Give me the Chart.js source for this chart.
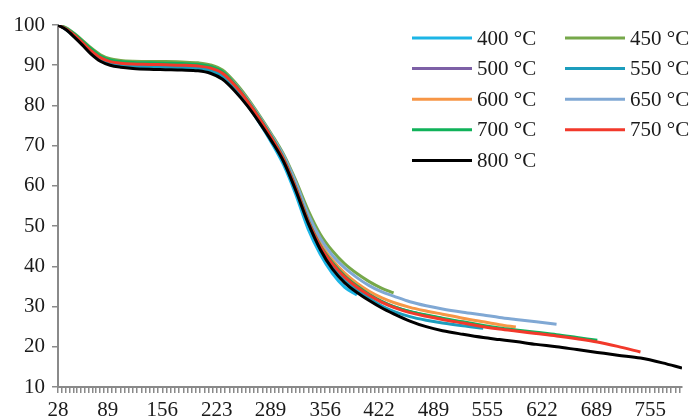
<!DOCTYPE html>
<html>
<head>
<meta charset="utf-8">
<script src="https://cdn.jsdelivr.net/npm/chart.js@4"></script>
<style>
  body { margin: 0; background: #fff; }
  #wrap { width: 690px; height: 418px; }
</style>
</head>
<body>
<div id="wrap"><canvas id="tgaChart" width="690" height="418"></canvas></div>
<script>
// Temperature grid (°C) shared by all runs
const tempC = [28, 38, 48, 58, 68, 80, 92, 105, 120, 140, 160, 180, 200, 215, 230, 245, 260, 275, 290, 305,
  320, 335, 350, 365, 380, 395, 410, 425, 440, 460, 480, 500, 525, 550, 570, 590, 615, 640, 665, 690,
  715, 743, 770, 794];

// Residual mass (%) per run
const mass400 = [100, 98.9, 97.2, 95.2, 93.2, 91.4, 90.5, 90.0, 89.8, 89.6, 89.5, 89.4, 89.2, 88.6, 87.0, 84.0,
  80.2, 75.8, 70.8, 65.2, 57.8, 49.3, 43.0, 38.2, 34.8, 32.9];
const mass450 = [100, 99.3, 97.9, 96.2, 94.4, 92.6, 91.6, 91.2, 91.0, 90.9, 90.9, 90.8, 90.6, 90.1, 88.8, 85.8,
  82.0, 77.6, 72.9, 67.8, 61.3, 54.0, 48.0, 43.8, 40.6, 38.2, 36.2, 34.6, 33.4];
const mass500 = [100, 99.0, 97.4, 95.5, 93.6, 91.8, 90.9, 90.5, 90.3, 90.1, 90.0, 89.9, 89.7, 89.2, 87.8, 84.8,
  81.0, 76.6, 71.8, 66.5, 59.3, 51.3, 45.0, 40.7, 37.5, 35.0, 33.0, 31.3, 30.0, 28.7, 27.8, 27.0];
const mass550 = [100, 98.9, 97.2, 95.3, 93.3, 91.5, 90.6, 90.1, 89.9, 89.7, 89.6, 89.5, 89.3, 88.7, 87.2, 84.3,
  80.5, 76.2, 71.5, 66.2, 58.9, 50.8, 44.5, 40.0, 36.6, 34.2, 32.1, 30.2, 28.8, 27.5, 26.6, 25.9, 25.2, 24.6];
const mass600 = [100, 99.1, 97.6, 95.8, 93.9, 92.0, 91.1, 90.7, 90.5, 90.4, 90.3, 90.2, 90.0, 89.5, 88.2, 85.2,
  81.4, 77.0, 72.2, 66.9, 59.8, 52.0, 45.8, 41.5, 38.3, 35.8, 33.8, 32.2, 31.0, 29.8, 28.9, 28.1, 27.1, 26.2,
  25.5, 24.9];
const mass650 = [100, 99.1, 97.6, 95.8, 94.0, 92.1, 91.2, 90.8, 90.6, 90.5, 90.4, 90.3, 90.1, 89.6, 88.3, 85.4,
  81.6, 77.3, 72.6, 67.5, 60.8, 53.0, 47.0, 42.7, 39.6, 37.2, 35.2, 33.7, 32.6, 31.2, 30.2, 29.4, 28.6, 27.9,
  27.3, 26.8, 26.2, 25.6];
const mass700 = [100, 99.2, 97.8, 96.0, 94.2, 92.3, 91.3, 90.9, 90.7, 90.6, 90.5, 90.4, 90.2, 89.7, 88.4, 85.3,
  81.4, 77.0, 72.2, 66.8, 59.6, 51.5, 45.2, 40.9, 37.6, 35.1, 33.0, 31.3, 30.0, 28.8, 27.9, 27.1, 26.2, 25.3,
  24.7, 24.2, 23.6, 23.0, 22.3, 21.6];
const mass750 = [100, 99.0, 97.5, 95.6, 93.7, 91.9, 90.9, 90.5, 90.3, 90.2, 90.1, 90.0, 89.8, 89.3, 88.0, 85.0,
  81.2, 76.8, 72.0, 66.6, 59.4, 51.3, 45.0, 40.6, 37.3, 34.8, 32.8, 31.1, 29.8, 28.5, 27.6, 26.8, 25.9, 25.0,
  24.4, 23.9, 23.3, 22.7, 22.0, 21.2, 20.1, 18.7];
const mass800 = [100, 98.8, 97.0, 95.0, 92.9, 91.0, 90.0, 89.5, 89.2, 89.0, 88.9, 88.8, 88.6, 88.0, 86.5, 83.6,
  80.0, 75.8, 71.2, 66.0, 58.8, 50.8, 44.2, 39.3, 35.9, 33.5, 31.5, 29.7, 28.2, 26.4, 25.0, 24.0, 23.1, 22.3,
  21.8, 21.3, 20.6, 20.0, 19.3, 18.6, 17.9, 17.2, 16.0, 14.7];

const runLabels = ['400 °C', '450 °C', '500 °C', '550 °C', '600 °C', '650 °C', '700 °C', '750 °C', '800 °C'];
const runMass = [mass400, mass450, mass500, mass550, mass600, mass650, mass700, mass750, mass800];
const runColors = ['#1cb5e6', '#76a84a', '#7d60a6', '#1c9dbd', '#f79646', '#80a8d4', '#10b25a', '#f2392b', '#000000'];

const xTickLabels = [28, 89, 156, 223, 289, 356, 422, 489, 555, 622, 689, 755];
const xMax = 794;

const fontFamily = '"Liberation Serif", "Times New Roman", serif';
const axisGrey = '#8a8a8a';

// Legend drawn inside the plot, two columns like the original
const insideLegend = {
    id: 'insideLegend',
    afterDraw(chart) {
        const ctx = chart.ctx;
        ctx.save();
        ctx.font = '21px ' + fontFamily;
        ctx.textBaseline = 'middle';
        ctx.fillStyle = '#1a1a1a';
        chart.data.datasets.forEach((ds, i) => {
            const col = i % 2;
            const row = Math.floor(i / 2);
            const x = 412 + col * 153;
            const y = 38 + row * 30.6;
            ctx.strokeStyle = ds.borderColor;
            ctx.lineWidth = 3;
            ctx.beginPath();
            ctx.moveTo(x, y);
            ctx.lineTo(x + 60, y);
            ctx.stroke();
            ctx.fillText(ds.label, x + 65, y + 1);
        });
        ctx.restore();
    }
};

const datasets = runLabels.map(function(label, i) {
    return {
        label: label,
        data: runMass[i].map((v, k) => ({ x: tempC[k], y: v })),
        borderColor: runColors[i],
        backgroundColor: runColors[i],
        borderWidth: 3,
        pointRadius: 0,
        cubicInterpolationMode: 'monotone',
        order: runLabels.length - i
    };
});

new Chart(document.getElementById('tgaChart'), {
    type: 'line',
    data: { datasets: datasets },
    options: {
        responsive: false,
        animation: false,
        layout: { padding: { top: 25, right: 8, left: 0, bottom: 0 } },
        plugins: {
            legend: { display: false },
            tooltip: { enabled: false }
        },
        scales: {
            x: {
                type: 'linear',
                min: 28,
                max: xMax,
                afterBuildTicks: function(scale) {
                    const ticks = [];
                    for (let i = 0; i < xTickLabels.length; i++) {
                        const a = xTickLabels[i];
                        const b = i + 1 < xTickLabels.length ? xTickLabels[i + 1] : a + 66.7;
                        for (let k = 0; k < 13; k++) {
                            const v = k === 0 ? a : a + (b - a) * k / 13;
                            if (v <= xMax) ticks.push({ value: v });
                        }
                    }
                    scale.ticks = ticks;
                },
                afterFit: function(scale) { scale.height = 31; },
                ticks: {
                    autoSkip: false,
                    maxRotation: 0,
                    minRotation: 0,
                    padding: 5,
                    color: '#1a1a1a',
                    font: { family: fontFamily, size: 21 },
                    callback: function(value) {
                        return xTickLabels.indexOf(value) >= 0 ? String(value) : '';
                    }
                },
                grid: { drawOnChartArea: false, drawTicks: true, tickLength: 6, color: axisGrey, lineWidth: 1.5 },
                border: { color: axisGrey, width: 2 }
            },
            y: {
                min: 10,
                max: 100,
                afterFit: function(scale) { scale.width = 58; },
                ticks: {
                    stepSize: 10,
                    padding: 7,
                    color: '#1a1a1a',
                    font: { family: fontFamily, size: 21 }
                },
                grid: { drawOnChartArea: false, drawTicks: true, tickLength: 6, color: axisGrey, lineWidth: 1.5 },
                border: { color: axisGrey, width: 2 }
            }
        }
    },
    plugins: [insideLegend]
});
</script>
</body>
</html>
